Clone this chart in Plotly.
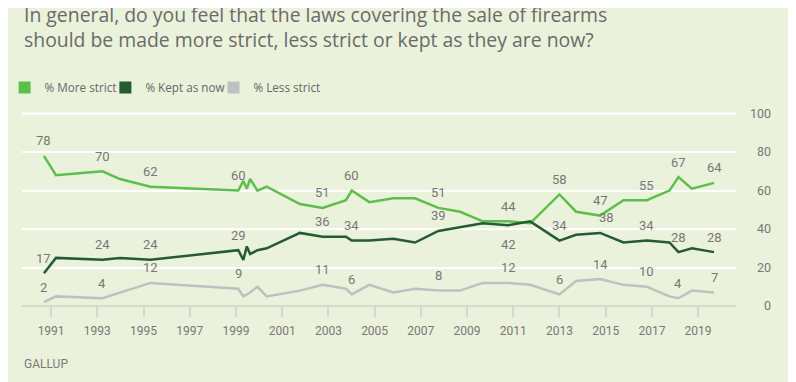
import plotly.graph_objects as go

# ---- data ----
years = [1990.69, 1991.21, 1993.22, 1993.98, 1995.30, 1999.10, 1999.32, 1999.47,
         1999.61, 1999.93, 2000.33, 2001.77, 2002.75, 2003.76, 2004.01, 2004.77,
         2005.81, 2006.75, 2007.76, 2008.70, 2009.68, 2010.78, 2011.73, 2013.00,
         2013.72, 2014.76, 2015.77, 2016.78, 2017.76, 2018.15, 2018.73, 2019.69]
more_strict = [78, 68, 70, 66, 62, 60, 65, 61, 66, 60, 62, 53, 51, 55, 60, 54,
               56, 56, 51, 49, 44, 44, 43, 58, 49, 47, 55, 55, 60, 67, 61, 64]
kept_as_now = [17, 25, 24, 25, 24, 29, 24, 31, 27, 29, 30, 38, 36, 36, 34, 34,
               35, 33, 39, 41, 43, 42, 44, 34, 37, 38, 33, 34, 33, 28, 30, 28]
less_strict = [2, 5, 4, 7, 12, 9, 5, 6, 7, 10, 5, 8, 11, 9, 6, 11,
               7, 9, 8, 8, 12, 12, 11, 6, 13, 14, 11, 10, 5, 4, 8, 7]
labelled = [0, 2, 4, 5, 12, 14, 18, 21, 23, 25, 27, 29, 31]
below_labels = {("kept", 21)}
shifted_right = {("kept", 25)}

x_tick_years = list(range(1991, 2020, 2))
y_tick_vals = [0, 20, 40, 60, 80, 100]

series = [
    ("more", "% More strict", more_strict, "#5cbf4b", "legend"),
    ("kept", "% Kept as now", kept_as_now, "#245b33", "legend2"),
    ("less", "% Less strict", less_strict, "#c0c0c0", "legend3"),
]

BG = "#ebf2dc"
# the page body adds an 8px offset, so the figure is laid out 8px up/left
W, H = 788, 374
Y_MAX = 105
L, R, B = 14, 22, 76
T = 106 - (Y_MAX - 100) * 1.92
plot_w = W - L - R
plot_h = H - T - B
x_dom_end = (728 - L) / plot_w

fig = go.Figure()
for key, name, vals, col, lg in series:
    fig.add_trace(go.Scatter(x=years, y=vals, mode="lines", name=name,
                             line=dict(color=col, width=2.5), showlegend=False,
                             hoverinfo="x+y"))
# legend entries as squares (one legend per entry for exact placement)
for key, name, vals, col, lg in series:
    fig.add_trace(go.Scatter(x=[None], y=[None], mode="markers", name=name,
                             marker=dict(symbol="square", size=12, color=col),
                             showlegend=True, legend=lg))
# dummy trace for the right-hand axis
fig.add_trace(go.Scatter(x=[None], y=[None], yaxis="y2", showlegend=False))

annotations = []
for key, name, vals, col, lg in series:
    for i in labelled:
        below = (key, i) in below_labels
        annotations.append(dict(x=years[i], y=vals[i], xref="x", yref="y",
                                text=str(vals[i]), showarrow=False,
                                yshift=-19 if below else 15,
                                xshift=6 if (key, i) in shifted_right else 0,
                                font=dict(family="Roboto", size=13, color="#777777")))
annotations.append(dict(x=0, xref="paper", xanchor="left", y=(298 - 356) / plot_h,
                        yref="paper", yanchor="middle", text="GALLUP", showarrow=False,
                        font=dict(family="Roboto", size=12, color="#7a7a7a")))
# chart title
annotations.append(dict(x=0, xref="paper", xanchor="left", align="left",
                        y=1 + (T - 47) / plot_h, yref="paper", yanchor="bottom",
                        showarrow=False,
                        text="In general, do you feel that the laws covering the sale of firearms<br>"
                             "should be made more strict, less strict or kept as they are now?",
                        font=dict(family="Open Sans", size=19.4, color="#6a6a6a")))

legend_common = dict(orientation="h", xanchor="left", y=1 + (T - 80) / plot_h,
                     yanchor="middle",
                     font=dict(family="Open Sans", size=11.7, color="#666666"),
                     bgcolor="rgba(0,0,0,0)", itemclick=False)
legend_left_px = [-3.4, 97.4, 205.5]

fig.update_layout(
    width=W, height=H,
    margin=dict(l=L, r=R, t=T, b=B, autoexpand=False),
    paper_bgcolor=BG, plot_bgcolor=BG,
    legend=dict(x=(legend_left_px[0] - L) / plot_w, **legend_common),
    legend2=dict(x=(legend_left_px[1] - L) / plot_w, **legend_common),
    legend3=dict(x=(legend_left_px[2] - L) / plot_w, **legend_common),
    xaxis=dict(domain=[0, x_dom_end], range=[1989.74, 2020.64], showgrid=False,
               zeroline=False, showline=False, tickmode="array", tickvals=x_tick_years,
               ticktext=[str(y) for y in x_tick_years], ticks="outside", ticklen=10,
               tickwidth=2, tickcolor="#d6d9cf", ticklabelstandoff=4,
               tickfont=dict(family="Roboto", size=12, color="#777777")),
    yaxis=dict(range=[0, Y_MAX], tickvals=y_tick_vals, showticklabels=False,
               showgrid=True, gridcolor="#ffffff", gridwidth=2,
               zeroline=True, zerolinecolor="#d6d9cf", zerolinewidth=2, showline=False),
    yaxis2=dict(range=[0, Y_MAX], overlaying="y", anchor="free", position=1.0,
                side="right", tickvals=y_tick_vals, showgrid=False, zeroline=False,
                showline=False, ticks="", ticklabelposition="inside",
                ticklabeloverflow="allow",
                tickfont=dict(family="Roboto", size=12.5, color="#777777")),
    # top (100) gridline, drawn explicitly as well
    shapes=[dict(type="line", xref="paper", x0=0, x1=x_dom_end, yref="y",
                 y0=y_tick_vals[-1], y1=y_tick_vals[-1],
                 line=dict(color="#ffffff", width=2), layer="below")],
    annotations=annotations,
    showlegend=True,
)

fig.write_html("out.html")
